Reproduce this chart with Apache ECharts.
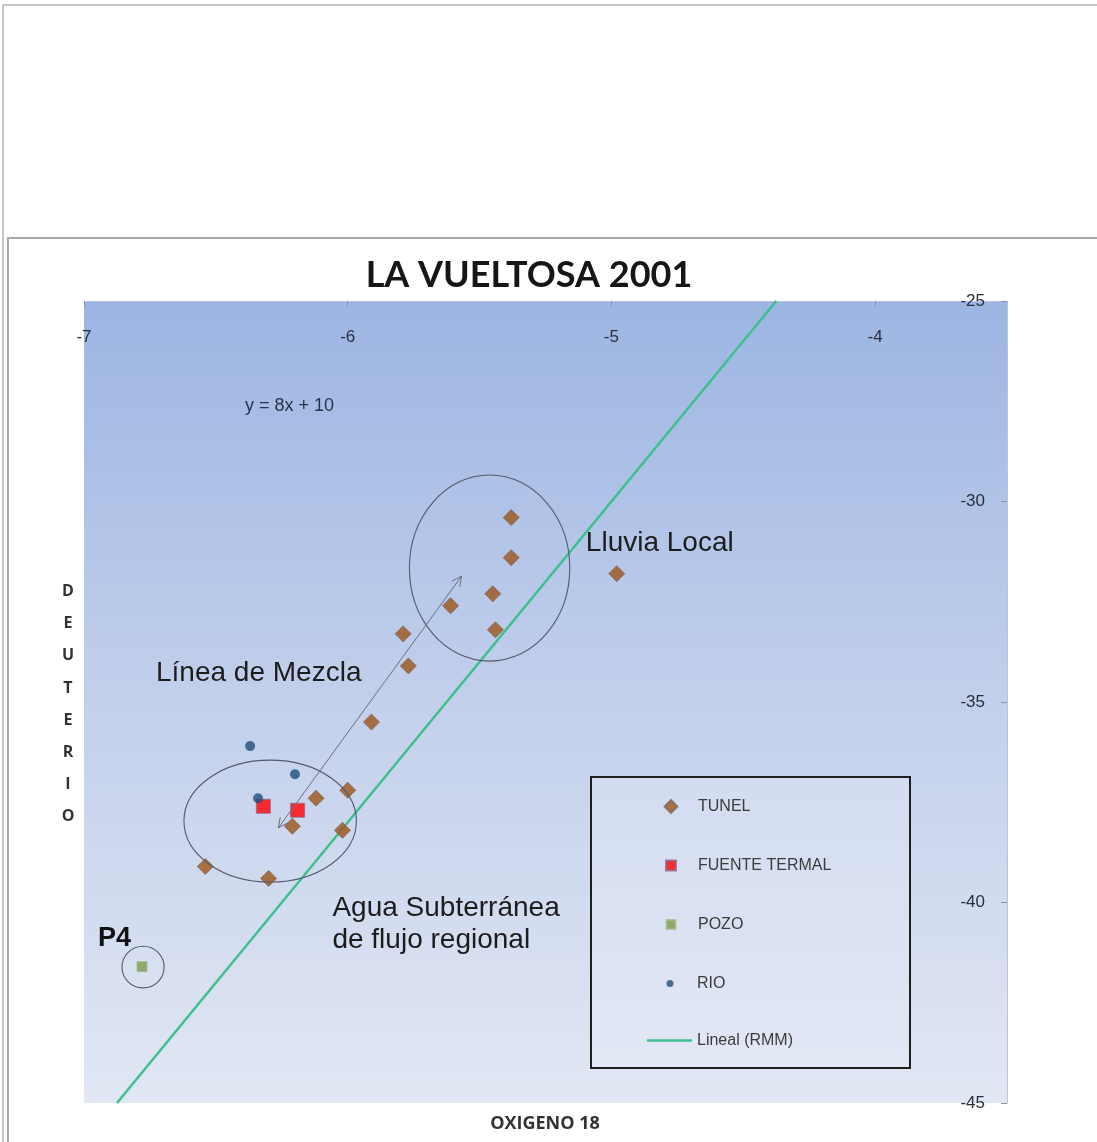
<!DOCTYPE html>
<html><head><meta charset="utf-8">
<script src="https://cdn.jsdelivr.net/npm/echarts@6/dist/echarts.min.js"></script>
<style>html,body{margin:0;padding:0;background:#fff}#c{width:1097px;height:1142px}</style>
</head><body><div id="c"></div>
<script>
// ---- data ----
const xTicks = [-7, -6, -5, -4];
const yTicks = [-45, -40, -35, -30, -25];
const tunelX = [-5.38, -5.38, -4.98, -5.61, -5.45, -5.44, -5.79, -5.77, -5.91, -6.00, -6.12, -6.21, -6.02, -6.54, -6.30];
const tunelY = [-30.4, -31.4, -31.8, -32.6, -32.3, -33.2, -33.3, -34.1, -35.5, -37.2, -37.4, -38.1, -38.2, -39.1, -39.4];
const fuenteX = [-6.32, -6.19];
const fuenteY = [-37.6, -37.7];
const pozoX = [-6.78];
const pozoY = [-41.6];
const rioX = [-6.37, -6.20, -6.34];
const rioY = [-36.1, -36.8, -37.4];
const rmmX = [-6.875, -4.375];
const rmmY = [-45, -25];

// annotations (data coordinates)
const ellipses = [
  {cx: -5.462, cy: -31.66, rx: 0.304, ry: 2.32},
  {cx: -6.294, cy: -37.97, rx: 0.327, ry: 1.52},
  {cx: -6.776, cy: -41.61, rx: 0.08, ry: 0.52}
];
const arrowFrom = [-6.263, -38.14];
const arrowTo = [-5.568, -31.86];

const zip = (a, b) => a.map((v, i) => [v, b[i]]);
const FONT = 'Liberation Sans';

const chart = echarts.init(document.getElementById('c'));

const legendSpec = [
  {name: 'TUNEL', icon: 'diamond', w: 13, h: 13, cy: 805},
  {name: 'FUENTE TERMAL', icon: 'rect', w: 10, h: 10, cy: 864},
  {name: 'POZO', icon: 'rect', w: 9, h: 9, cy: 923},
  {name: 'RIO', icon: 'circle', w: 7, h: 7, cy: 982},
  {name: 'Lineal (RMM)', icon: 'rect', w: 45, h: 2.5, cy: 1039}
];

const option = {
  animation: false,
  backgroundColor: '#ffffff',
  grid: {
    left: 84, right: 90, top: 301, bottom: 39,
    show: true, borderWidth: 0,
    backgroundColor: new echarts.graphic.LinearGradient(0, 0, 0, 1, [
      {offset: 0, color: '#9cb5e2'},
      {offset: 0.5, color: '#c3d0ec'},
      {offset: 1, color: '#e1e7f3'}
    ])
  },
  xAxis: {
    type: 'value', position: 'top', min: -7, max: -3.5, interval: 1,
    axisLine: {show: true, onZero: false, lineStyle: {color: '#b9c4d8', width: 1}},
    axisTick: {show: true, inside: true, length: 6, lineStyle: {color: '#8a93a8'}},
    axisLabel: {inside: true, margin: 28, color: '#2a2e3c', fontSize: 17, fontFamily: FONT,
      showMaxLabel: false,
      formatter: v => xTicks.includes(v) ? String(v) : ''},
    splitLine: {show: false}
  },
  yAxis: {
    type: 'value', position: 'right', min: -45, max: -25, interval: 5,
    axisLine: {show: true, onZero: false, lineStyle: {color: '#b9c4d8', width: 1}},
    axisTick: {show: true, inside: true, length: 6, lineStyle: {color: '#8a93a8'}},
    axisLabel: {inside: true, margin: 22, color: '#2a2e3c', fontSize: 17, fontFamily: FONT,
      formatter: v => yTicks.includes(v) ? String(v) : ''},
    splitLine: {show: false}
  },
  legend: legendSpec.map(s => ({
    data: [{name: s.name, icon: s.icon}], orient: 'vertical',
    left: s.icon === 'rect' && s.w > 20 ? 647 : 670 - s.w / 2,
    top: s.cy - Math.max(s.h, 13) / 2,
    itemWidth: s.w, itemHeight: s.h, itemGap: 5, padding: 0, z: 6,
    textStyle: {color: '#3c3c3c', fontSize: 16, fontFamily: FONT,
      padding: [0, 0, 0, s.w > 20 ? 0 : 22 - s.w / 2]}
  })),
  series: [
    {name: 'TUNEL', type: 'scatter', symbol: 'diamond', symbolSize: 16, z: 3,
      itemStyle: {color: '#9e5419', borderColor: '#7d6a5c', borderWidth: 1},
      data: zip(tunelX, tunelY)},
    {name: 'FUENTE TERMAL', type: 'scatter', symbol: 'rect', symbolSize: 14, z: 4,
      itemStyle: {color: '#ff0000', borderColor: '#8d6c8c', borderWidth: 1},
      data: zip(fuenteX, fuenteY)},
    {name: 'POZO', type: 'scatter', symbol: 'rect', symbolSize: 10, z: 4,
      itemStyle: {color: '#7b9a48', borderColor: '#a7b98a', borderWidth: 1},
      data: zip(pozoX, pozoY)},
    {name: 'RIO', type: 'scatter', symbol: 'circle', symbolSize: 10, z: 4,
      itemStyle: {color: '#1f4f7c'},
      data: zip(rioX, rioY)},
    {name: 'Lineal (RMM)', type: 'line', symbol: 'none', z: 2,
      lineStyle: {color: '#3fbf8e', width: 2.5},
      itemStyle: {color: '#3fbf8e'},
      data: zip(rmmX, rmmY)}
  ]
};
chart.setOption(option);

const P = (x, y) => chart.convertToPixel({gridIndex: 0}, [x, y]);
const g = [];
// page frames
g.push({type: 'rect', shape: {x: 3, y: 5, width: 1100, height: 1150}, style: {fill: null, stroke: '#b4b4b4', lineWidth: 1.5}, z: 1, silent: true});
g.push({type: 'rect', shape: {x: 8, y: 238, width: 1100, height: 920}, style: {fill: null, stroke: '#a9a9a9', lineWidth: 2}, z: 1, silent: true});
// title
g.push({type: 'text', x: 529, y: 275, style: {text: 'LA VUELTOSA 2001', font: 'bold 36px Lato', fill: '#161616', textAlign: 'center', textVerticalAlign: 'middle'}, z: 5});
// axis names
g.push({type: 'text', x: 545, y: 1124, style: {text: 'OXIGENO 18', font: 'bold 18px "Open Sans"', fill: '#333333', textAlign: 'center', textVerticalAlign: 'middle'}, z: 5});
g.push({type: 'text', x: 68, y: 704, style: {text: 'DEUTERIO'.split('').join('\n'), font: 'bold 16px "Open Sans"', lineHeight: 32.1, fill: '#333333', textAlign: 'center', textVerticalAlign: 'middle'}, z: 5});
// legend box
g.push({type: 'rect', shape: {x: 591, y: 777, width: 319, height: 291}, style: {fill: 'rgba(236,240,248,0.3)', stroke: '#1e1e1e', lineWidth: 2}, z: 5});
// ellipses
ellipses.forEach(e => {
  const c = P(e.cx, e.cy), r = P(e.cx + e.rx, e.cy + e.ry);
  g.push({type: 'ellipse', shape: {cx: c[0], cy: c[1], rx: Math.abs(r[0] - c[0]), ry: Math.abs(c[1] - r[1])}, style: {fill: null, stroke: '#545a6c', lineWidth: 1.1}, z: 5});
});
// double-headed arrow
(function () {
  const a = P(arrowFrom[0], arrowFrom[1]), b = P(arrowTo[0], arrowTo[1]);
  g.push({type: 'line', shape: {x1: a[0], y1: a[1], x2: b[0], y2: b[1]}, style: {stroke: '#6b6f7c', lineWidth: 1}, z: 5});
  const head = (tip, from) => {
    const ang = Math.atan2(tip[1] - from[1], tip[0] - from[0]);
    const L = 11, w = 0.45;
    const p1 = [tip[0] - L * Math.cos(ang - w), tip[1] - L * Math.sin(ang - w)];
    const p2 = [tip[0] - L * Math.cos(ang + w), tip[1] - L * Math.sin(ang + w)];
    g.push({type: 'polyline', shape: {points: [p1, tip, p2]}, style: {stroke: '#6b6f7c', lineWidth: 1, fill: null}, z: 5});
  };
  head(b, a); head(a, b);
})();
// text annotations
const txt = (x, y, text, font, align, extra) => {
  const p = P(x, y);
  g.push({type: 'text', x: p[0], y: p[1], style: Object.assign({text, font, fill: '#1c1c1c', textAlign: align, textVerticalAlign: 'middle'}, extra || {}), z: 6});
};
txt(-6.221, -27.62, 'y = 8x + 10', '18px ' + FONT, 'center', {fill: '#28324a'});
txt(-5.097, -31.03, 'Lluvia Local', '28px ' + FONT, 'left');
txt(-6.727, -34.28, 'Línea de Mezcla', '28px ' + FONT, 'left');
txt(-6.058, -40.54, 'Agua Subterránea\nde flujo regional', '28px ' + FONT, 'left', {lineHeight: 32});
txt(-6.947, -40.91, 'P4', 'bold 27px ' + FONT, 'left', {fill: '#111111'});

chart.setOption({graphic: {elements: g}});
</script>
</body></html>
